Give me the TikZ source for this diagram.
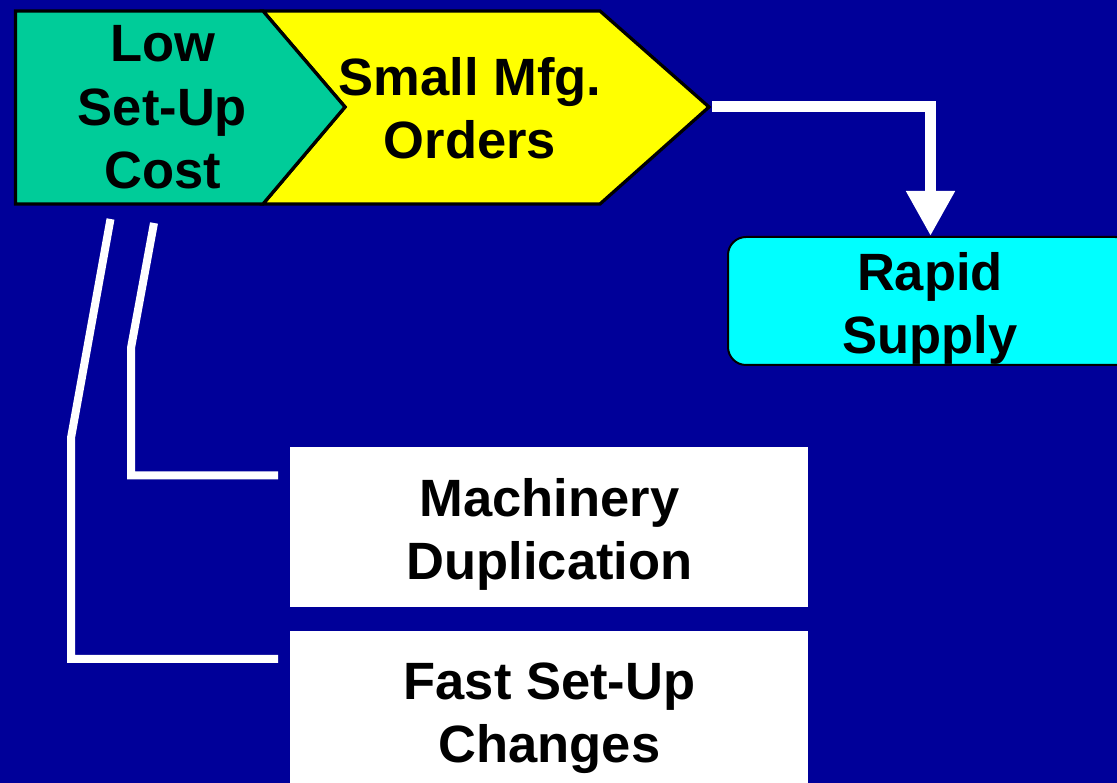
\documentclass[tikz,border=0pt]{standalone}
\usepackage{fontspec}
\setmainfont{Liberation Sans}
\usetikzlibrary{arrows.meta}
\definecolor{bgblue}{RGB}{0,0,153}
\definecolor{costgreen}{RGB}{0,204,153}
\definecolor{orderyellow}{RGB}{255,255,0}
\definecolor{supplycyan}{RGB}{0,255,255}
\begin{document}
\begin{tikzpicture}[x=1pt,y=1pt,
  lbl/.style={font=\fontsize{52.5}{63.5}\selectfont\bfseries, align=center,
              inner sep=0pt, anchor=north, text=black},
  chevron/.style={draw=black, line width=3.3pt, line join=miter},
  wirelink/.style={draw=white, line width=8pt, line join=miter},
  subbox/.style={rectangle, fill=white, minimum width=518pt,
                 minimum height=160pt, inner sep=0pt},
  goalbox/.style={rectangle, draw=black, line width=2pt, fill=supplycyan,
                  rounded corners=18pt, minimum width=405pt,
                  minimum height=128pt, inner sep=0pt}]
  % page and background
  \useasboundingbox (0,0) rectangle (1117,783);
  \clip (0,0) rectangle (1117,783);
  \fill[bgblue] (0,0) rectangle (1117,783);

  % chevron pair
  \coordinate (ytip) at (709,676);
  \path[chevron, fill=orderyellow] (263,772) -- (600,772) -- (ytip)
      -- (600,579) -- (263,579) -- (345,676) -- cycle;
  \path[chevron, fill=costgreen] (15.5,772) -- (263,772) -- (345,676)
      -- (263,579) -- (15.5,579) -- cycle;
  \node[lbl] (lowT) at (162.5,757.8) {Low\\Set-Up\\Cost};
  \node[lbl] (smallT) at (470,725.8) {Small Mfg.\\Orders};

  % outcome box
  \node[goalbox] (rapid) at (930.5,482) {};
  \node[lbl] (rapidT) at (930,530.8) {Rapid\\Supply};

  % white enabler boxes
  \node[subbox] (mach) at (549,256) {};
  \node[lbl] (machT) at (549.5,304.8) {Machinery\\Duplication};
  \node[subbox] (fast) at (549,72) {};
  \node[lbl] (fastT) at (549.5,120.8) {Fast Set-Up\\Changes};

  % arrow to the outcome
  \coordinate (arrowstart) at (712,676);
  \draw[white, line width=11pt, line join=miter,
        -{Triangle[width=46pt,length=45pt]}] (arrowstart) -| (rapid.north);

  % links from the cost chevron to the enablers
  \coordinate (w1a) at (110.5,564);
  \coordinate (w1b) at (71,345);
  \coordinate (w1e) at (278,124);
  \draw[wirelink] (w1a) -- (w1b) |- (w1e);
  \coordinate (w2a) at (154,560);
  \coordinate (w2b) at (131,435);
  \coordinate (w2e) at (278,307.5);
  \draw[wirelink] (w2a) -- (w2b) |- (w2e);
\end{tikzpicture}
\end{document}
